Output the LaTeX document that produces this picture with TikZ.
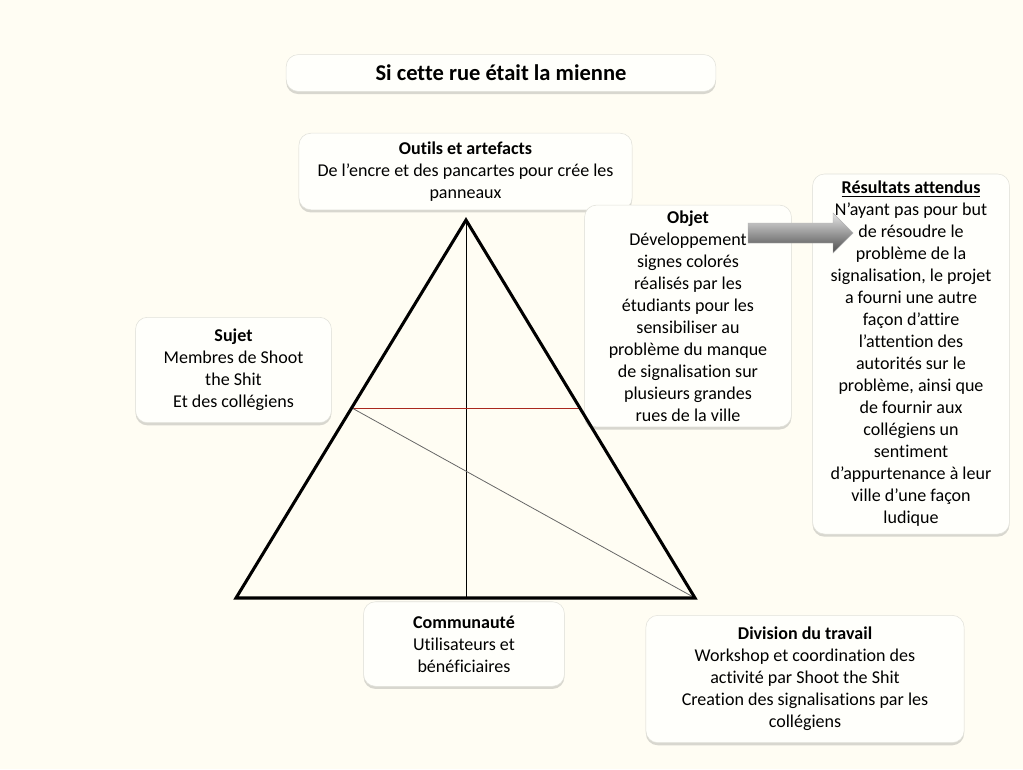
\documentclass[tikz,border=0pt]{standalone}
\usepackage{fontspec}
\setmainfont[Ligatures={NoCommon}]{Carlito}
\usetikzlibrary{positioning, shadows}

\definecolor{bgcream}{RGB}{255,253,243}
\definecolor{boxfill}{RGB}{255,255,251}
\definecolor{boxedge}{RGB}{225,225,218}
\definecolor{redline}{RGB}{170,40,30}
\newcommand{\corps}{\fontsize{13.6}{16.6}\selectfont}
\newcommand{\titrefont}{\fontsize{17}{20}\selectfont\bfseries}

\begin{document}
\begin{tikzpicture}[x=0.0265cm, y=-0.0265cm,
	boite/.style={rectangle, rounded corners=9pt, draw=boxedge, fill=boxfill, align=center,
		inner sep=2pt, font=\corps,
		drop shadow={shadow xshift=0pt, shadow yshift=-2pt, opacity=0.25, fill=black!60}},
	cote/.style={line width=2.3pt, line join=miter},
	trait/.style={line width=0.6pt}]
		\fill[bgcream] (0, 0) rectangle (1023, 769);
		\useasboundingbox (0, 0) rectangle (1023, 769);
		\begin{scope}
			\node[boite, minimum width=432*0.75pt, minimum height=37*0.75pt, font=\titrefont] (titre) at (501, 73) {Si cette rue était la mienne};
			\node[boite, minimum width=335*0.75pt, minimum height=77*0.75pt] (outils) at (465.5, 171.5) {\textbf{Outils et artefacts}\\De l’encre et des pancartes pour crée les\\panneaux};
			\node[boite, minimum width=208*0.75pt, minimum height=223*0.75pt] (objet) at (688, 316) {\textbf{Objet}\\Développement\\signes colorés\\réalisés par les\\étudiants pour les\\sensibiliser au\\problème du manque\\de signalisation sur\\plusieurs grandes\\rues de la ville};
			\node[boite, minimum width=198*0.75pt, minimum height=362*0.75pt] (resultats) at (911, 354) {\textbf{\underline{Résultats attendus}}\\N’ayant pas pour but\\de résoudre le\\problème de la\\signalisation, le projet\\a fourni une autre\\façon d’attire\\l’attention des\\autorités sur le\\problème, ainsi que\\de fournir aux\\collégiens un\\sentiment\\d’appurtenance à leur\\ville d’une façon\\ludique};
			\node[boite, minimum width=197*0.75pt, minimum height=106*0.75pt] (sujet) at (233.5, 370) {\textbf{Sujet}\\Membres de Shoot\\the Shit\\Et des collégiens};
			\node[boite, minimum width=202*0.75pt, minimum height=85*0.75pt] (communaute) at (464, 644) {\textbf{Communauté}\\Utilisateurs et\\bénéficiaires};
			\node[boite, minimum width=320*0.75pt, minimum height=128*0.75pt] (division) at (805, 679) {\textbf{Division du travail}\\Workshop et coordination des\\activité par Shoot the Shit\\Creation des signalisations par les\\collégiens};
		\end{scope}
		\begin{scope}
			\coordinate (sommet) at (466, 220);
			\coordinate (baseg) at (236, 598);
			\coordinate (based) at (695, 598);
			\coordinate (pied) at (466, 598);
			\coordinate (redg) at (352, 408);
			\coordinate (redd) at (580, 408);
			\draw[trait, black] (sommet) -- (pied);
			\draw[trait, redline] (redg) -- (redd);
			\draw[line width=0.6pt, black!60] (redg) -- (based);
			\draw[cote] (sommet) -- (based) -- (baseg) -- cycle;
		\end{scope}
		\shade[top color=gray!20, bottom color=black!70, draw=gray!60, line width=0.3pt]
			(748, 223) -- (833, 223) -- (833, 213) -- (853, 233) -- (833, 253) -- (833, 243) -- (748, 243) -- cycle;
	\end{tikzpicture}
\end{document}
